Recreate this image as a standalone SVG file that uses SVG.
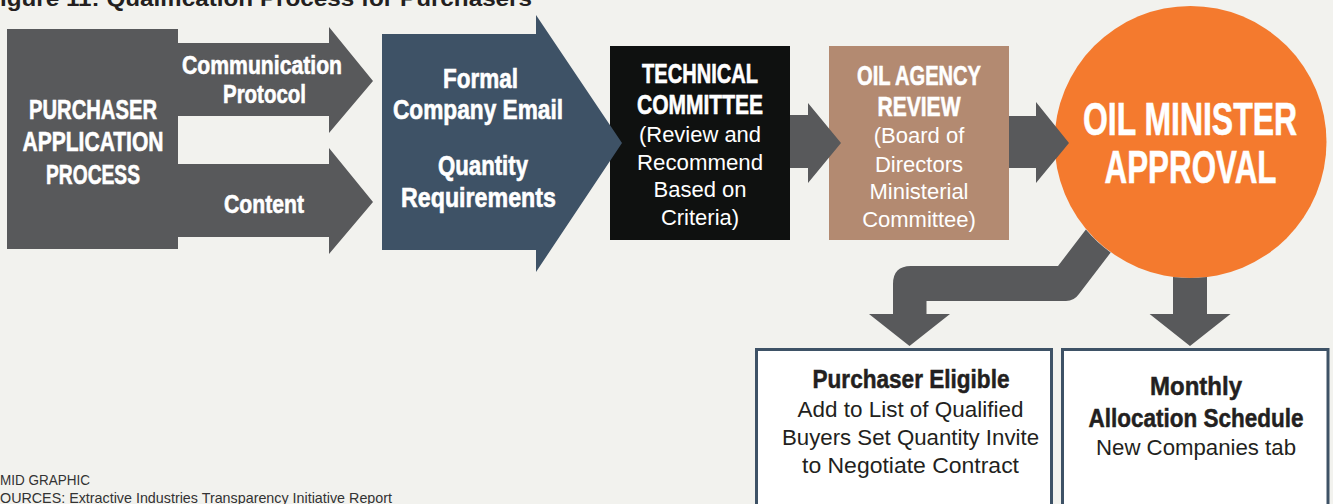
<svg xmlns="http://www.w3.org/2000/svg" width="1333" height="504" viewBox="0 0 1333 504">
<style>
.b{font-family:"Liberation Sans",Arial,sans-serif;font-weight:bold;fill:#fff;stroke:#fff;stroke-width:0.6;text-anchor:middle}
.r{font-family:"Liberation Sans",Arial,sans-serif;fill:#fff;text-anchor:middle;font-size:22px}
.db{font-family:"Liberation Sans",Arial,sans-serif;font-weight:bold;fill:#231f20;stroke:#231f20;stroke-width:0.5;text-anchor:middle;font-size:26px}
.dr{font-family:"Liberation Sans",Arial,sans-serif;fill:#231f20;text-anchor:middle;font-size:22px}
.gray{fill:#58595b}
.box{fill:#fff;stroke:#3e5266;stroke-width:3}
.note{font-family:"Liberation Sans",Arial,sans-serif;fill:#333;font-size:14.5px}
</style>
<rect width="1333" height="504" fill="#f2f2ee"/>
<text x="0" y="6" font-family="Liberation Sans, Arial, sans-serif" font-weight="bold" font-size="22" fill="#231f20" textLength="532" lengthAdjust="spacingAndGlyphs">igure 11: Qualification Process for Purchasers</text>

<g id="purchaser-application">
<rect class="gray" x="7" y="29" width="171" height="220"/>
<path class="gray" d="M178,43 L329,43 L329,27 L373,81 L329,133 L329,116 L178,116 Z"/>
<path class="gray" d="M178,164 L329,164 L329,148 L373,202 L329,254 L329,237 L178,237 Z"/>
<text class="b" font-size="27" x="93" y="119" textLength="128" lengthAdjust="spacingAndGlyphs">PURCHASER</text>
<text class="b" font-size="27" x="93" y="151" textLength="141" lengthAdjust="spacingAndGlyphs">APPLICATION</text>
<text class="b" font-size="27" x="93" y="184" textLength="94" lengthAdjust="spacingAndGlyphs">PROCESS</text>
<text class="b" font-size="26" x="262" y="74" textLength="160" lengthAdjust="spacingAndGlyphs">Communication</text>
<text class="b" font-size="26" x="264.5" y="103" textLength="83" lengthAdjust="spacingAndGlyphs">Protocol</text>
<text class="b" font-size="26" x="264" y="213" textLength="80" lengthAdjust="spacingAndGlyphs">Content</text>
</g>

<g id="technical-committee">
<rect x="610" y="46" width="180" height="194" fill="#0f1110"/>
<text class="b" font-size="28" x="700" y="83" textLength="116" lengthAdjust="spacingAndGlyphs">TECHNICAL</text>
<text class="b" font-size="28" x="700" y="114" textLength="126" lengthAdjust="spacingAndGlyphs">COMMITTEE</text>
<text class="r" x="700" y="142" textLength="122" lengthAdjust="spacingAndGlyphs">(Review and</text>
<text class="r" x="700" y="170" textLength="126" lengthAdjust="spacingAndGlyphs">Recommend</text>
<text class="r" x="700" y="197">Based on</text>
<text class="r" x="700" y="225">Criteria)</text>
</g>

<g id="formal-email">
<path fill="#3e5266" d="M382,34 L536,34 L536,15 L622,143 L536,272 L536,250 L382,250 Z"/>
<text class="b" font-size="27" x="480.5" y="88" textLength="75" lengthAdjust="spacingAndGlyphs">Formal</text>
<text class="b" font-size="27" x="478" y="119" textLength="170" lengthAdjust="spacingAndGlyphs">Company Email</text>
<text class="b" font-size="27" x="483" y="175" textLength="90" lengthAdjust="spacingAndGlyphs">Quantity</text>
<text class="b" font-size="27" x="478.5" y="207" textLength="155" lengthAdjust="spacingAndGlyphs">Requirements</text>
</g>

<g id="oil-agency-review">
<rect x="829" y="46" width="180" height="194" fill="#b38a71"/>
<text class="b" font-size="28" x="919" y="85" textLength="124" lengthAdjust="spacingAndGlyphs">OIL AGENCY</text>
<text class="b" font-size="28" x="919" y="116" textLength="83" lengthAdjust="spacingAndGlyphs">REVIEW</text>
<text class="r" x="919" y="143">(Board of</text>
<text class="r" x="919" y="172">Directors</text>
<text class="r" x="919" y="199">Ministerial</text>
<text class="r" x="919" y="227">Committee)</text>
</g>

<g id="oil-minister-approval">
<circle cx="1190.5" cy="142" r="136" fill="#f47a2e"/>
<text class="b" font-size="46" stroke-width="1" x="1190" y="135" textLength="214" lengthAdjust="spacingAndGlyphs">OIL MINISTER</text>
<text class="b" font-size="46" stroke-width="1" x="1190.5" y="183" textLength="172" lengthAdjust="spacingAndGlyphs">APPROVAL</text>
</g>

<g id="purchaser-eligible">
<rect class="box" x="756.5" y="349.5" width="295" height="170"/>
<text class="db" x="911" y="388" textLength="197" lengthAdjust="spacingAndGlyphs">Purchaser Eligible</text>
<text class="dr" x="910.5" y="417" textLength="226" lengthAdjust="spacingAndGlyphs">Add to List of Qualified</text>
<text class="dr" x="910.5" y="445" textLength="257" lengthAdjust="spacingAndGlyphs">Buyers Set Quantity Invite</text>
<text class="dr" x="910.5" y="473" textLength="217" lengthAdjust="spacingAndGlyphs">to Negotiate Contract</text>
</g>

<g id="monthly-allocation">
<rect class="box" x="1062.5" y="349.5" width="265.5" height="170"/>
<text class="db" x="1196" y="395" textLength="92" lengthAdjust="spacingAndGlyphs">Monthly</text>
<text class="db" x="1196" y="427" textLength="215" lengthAdjust="spacingAndGlyphs">Allocation Schedule</text>
<text class="dr" x="1196" y="455" textLength="200" lengthAdjust="spacingAndGlyphs">New Companies tab</text>
</g>

<g id="connectors">
<path class="gray" d="M790,115 L808,115 L808,103 L841,143 L808,183 L808,168 L790,168 Z"/>
<path class="gray" d="M1009,116 L1036,116 L1036,102 L1069,143 L1036,183 L1036,168 L1009,168 Z"/>
<path class="gray" d="M1085.9,229.5 L1058,266 L911,266 Q893,266 893,284 L893,314 L869,314 L909.5,346 L950,314 L926.5,314 L926.5,301 L1066,301 Q1074,301 1079,294 L1110.7,252.5 A136,136 0 0,1 1085.9,229.5 Z"/>
<path class="gray" d="M1173,276.9 A136,136 0 0,0 1207,276.9 L1207,314 L1230.5,314 L1190,346 L1149.6,314 L1173,314 Z"/>
</g>

<text class="note" x="0" y="485" textLength="90" lengthAdjust="spacingAndGlyphs">MID GRAPHIC</text>
<text class="note" x="0" y="503" textLength="392" lengthAdjust="spacingAndGlyphs">OURCES: Extractive Industries Transparency Initiative Report</text>
</svg>
